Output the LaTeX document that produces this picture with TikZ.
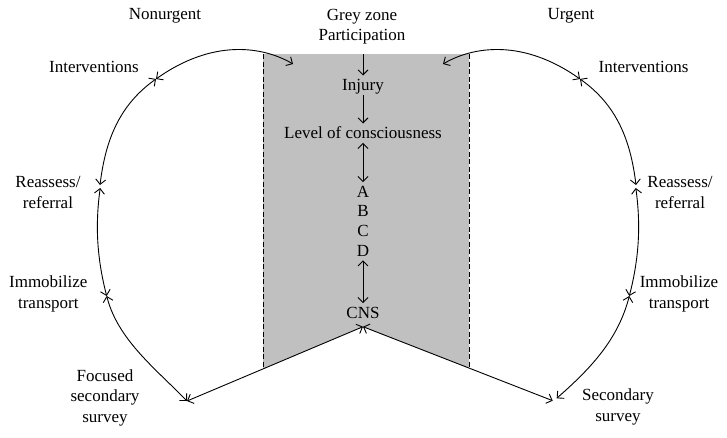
\documentclass[tikz,border=0pt]{standalone}
\usepackage{fontspec}
\setmainfont{Liberation Serif}
\usetikzlibrary{arrows.meta}
\definecolor{zonegrey}{RGB}{192,192,192}
\begin{document}
\begin{tikzpicture}[x=1pt,y=-1pt,
  >={Straight Barb[length=5pt,width=10pt]},
  lbl/.style={font=\fontsize{17}{20.5}\selectfont, align=center, inner sep=0pt},
  ctr/.style={font=\fontsize{17}{20.5}\selectfont, text height=11pt, text depth=0pt, inner sep=4pt, anchor=base},
  conn/.style={line width=0.9pt},
  zoneline/.style={line width=0.8pt, dash pattern=on 5pt off 2.5pt}]
\useasboundingbox (0,0) rectangle (727,437);

% grey zone
\coordinate (gtl) at (263,54);
\coordinate (gtr) at (469,54);
\coordinate (gbl) at (263,368.9);
\coordinate (gbr) at (469,368.3);
\coordinate (apex) at (363,326.7);
\fill[zonegrey] (gtl) -- (gtr) -- (gbr) -- (apex) -- (gbl) -- cycle;
\draw[zoneline] (gtl) -- (gbl);
\draw[zoneline] (gtr) -- (gbr);

% titles
\node[lbl] (nonurgent) at (165,16) {Nonurgent};
\node[lbl] (grey) at (362,26.5) {Grey zone\\Participation};
\node[lbl] (urgent) at (571,16) {Urgent};

% left labels
\node[lbl] (intL) at (94,66.7) {Interventions};
\node[lbl] (reaL) at (48,192.5) {Reassess/\\referral};
\node[lbl] (immL) at (48.3,293.7) {Immobilize\\transport};
\node[lbl] (fss) at (105,397.8) {Focused\\secondary\\survey};
% right labels
\node[lbl] (intR) at (643.5,66.7) {Interventions};
\node[lbl] (reaR) at (680,192.5) {Reassess/\\referral};
\node[lbl] (immR) at (679,293.7) {Immobilize\\transport};
\node[lbl] (ss) at (618,407) {Secondary\\survey};

% centre column
\coordinate (ztop) at (363,54);
\node[ctr] (injury) at (363,90.7) {Injury};
\node[ctr] (loc) at (363,138.7) {Level of consciousness};
\node[ctr] (A) at (363,197.3) {A};
\node[ctr] (B) at (363,216.9) {B};
\node[ctr] (C) at (363,236.5) {C};
\node[ctr] (D) at (363,256.1) {D};
\node[ctr] (cns) at (363,318.3) {CNS};
\draw[conn,->] (ztop) -- (injury);
\draw[conn,->] (injury) -- (loc);
\draw[conn,<->] (loc) -- (A);
\draw[conn,<->] (D) -- (cns);

% left cycle
\coordinate (P0) at (187,401);
\coordinate (P1) at (106.7,296);
\coordinate (P2b) at (100.2,188);
\coordinate (P2a) at (100,185);
\coordinate (P3) at (156,79);
\coordinate (P4) at (293,64);
\draw[conn,<->] (P0) .. controls (155.5,368.6) and (117.9,339.7) .. (P1);
\draw[conn,<->] (P1) .. controls (96.7,257.2) and (95.2,224.6) .. (P2b);
\draw[conn,<->] (P2a) .. controls (105.4,140.5) and (119.1,105.1) .. (P3);
\draw[conn,<->] (P3) .. controls (213.4,38.4) and (263,46.5) .. (P4);

% right cycle
\coordinate (Q0) at (556.7,398.3);
\coordinate (Q0l) at (552.7,400.7);
\coordinate (Q1) at (629.3,296);
\coordinate (Q2b) at (635.8,188);
\coordinate (Q2a) at (636,185);
\coordinate (Q3) at (580,79);
\coordinate (Q4) at (443,64);
\draw[conn,<->] (Q0) .. controls (590.5,368.6) and (618.1,339.7) .. (Q1);
\draw[conn,<->] (Q1) .. controls (639.3,257.2) and (640.8,224.6) .. (Q2b);
\draw[conn,<->] (Q2a) .. controls (630.6,140.5) and (616.9,105.1) .. (Q3);
\draw[conn,<->] (Q3) .. controls (522.6,38.4) and (473,46.5) .. (Q4);

% CNS to secondary surveys
\draw[conn,<->] (apex) -- (P0);
\draw[conn,<->] (apex) -- (Q0l);
\end{tikzpicture}
\end{document}
